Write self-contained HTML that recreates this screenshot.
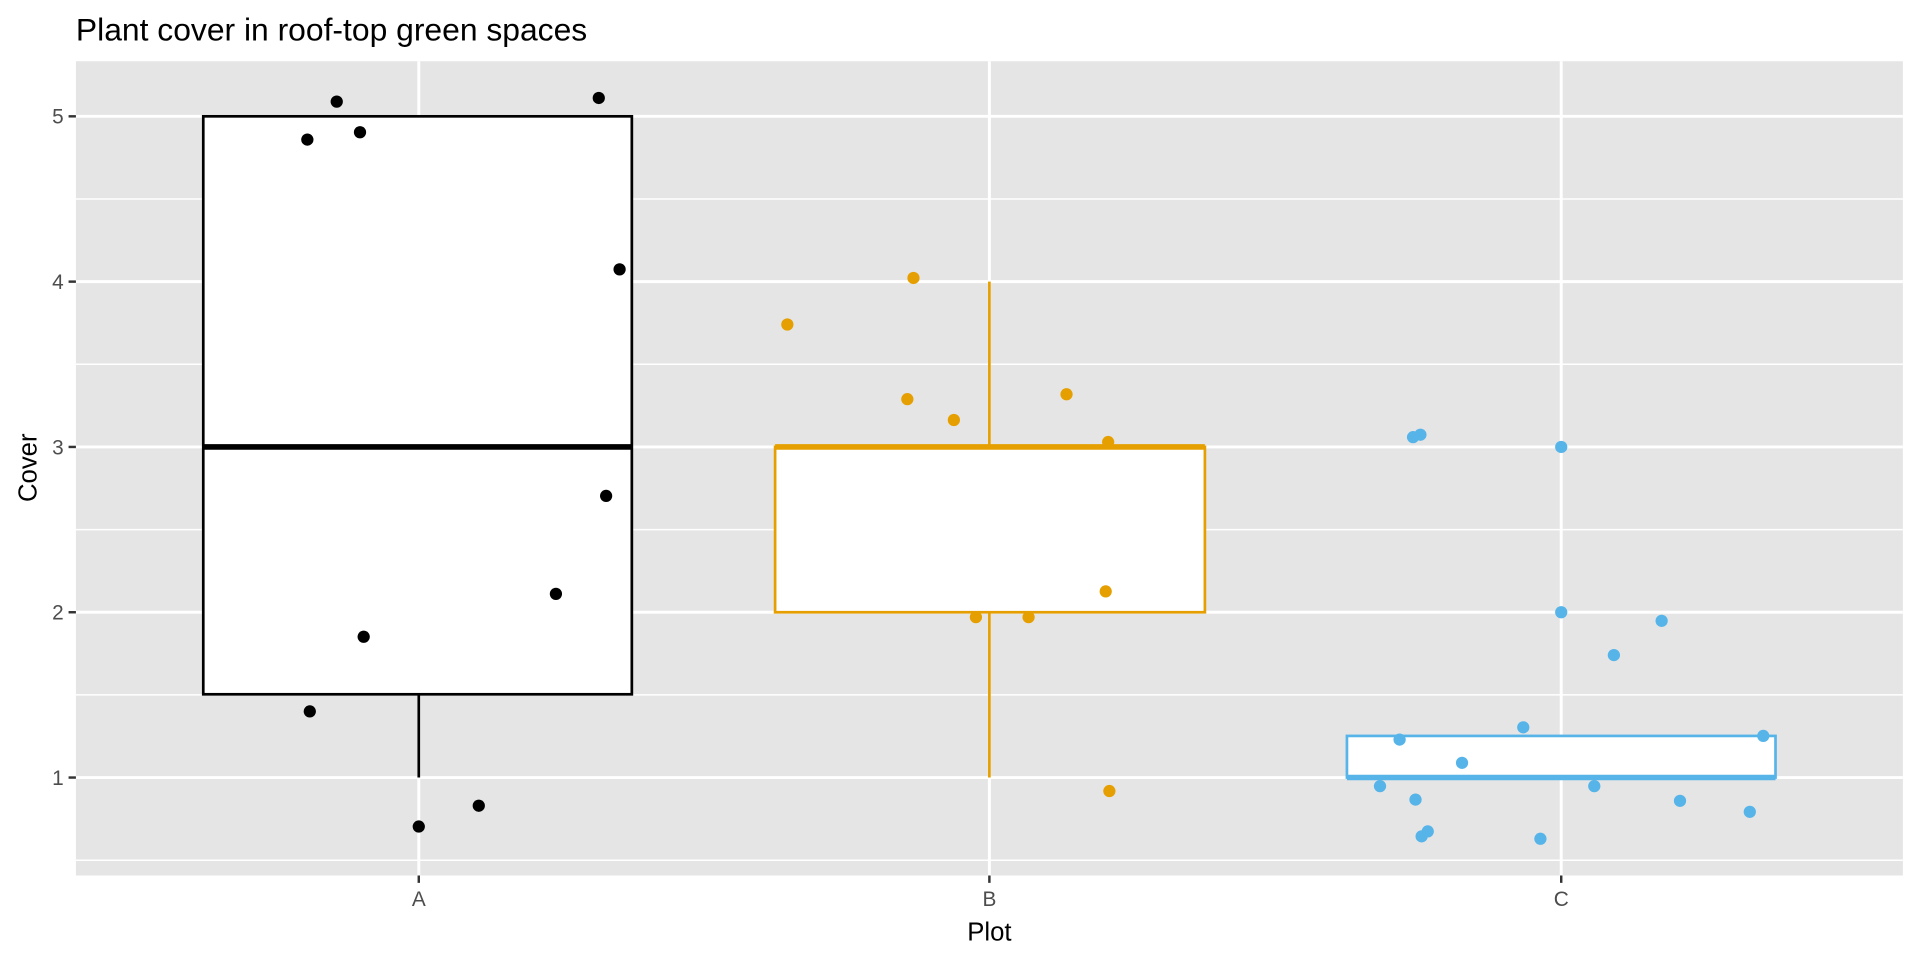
<!DOCTYPE html>
<html><head><meta charset="utf-8"><style>
html,body{margin:0;padding:0;background:#fff;overflow:hidden;}
svg{display:block;}
svg text{font-family:"Liberation Sans",Arial,sans-serif;}
</style></head><body>
<svg width="1920" height="960" viewBox="0 0 1568 784" xmlns="http://www.w3.org/2000/svg">
<rect width="1568" height="784" fill="#fff"/>
<text x="62" y="33" font-size="26" fill="#000">Plant cover in roof-top green spaces</text>
<rect x="62" y="50" width="1492" height="665" fill="#e5e5e5"/>
<g stroke="#fff" stroke-width="1.2">
<line x1="62" x2="1554" y1="162.5" y2="162.5"/><line x1="62" x2="1554" y1="297.5" y2="297.5"/>
<line x1="62" x2="1554" y1="432.5" y2="432.5"/><line x1="62" x2="1554" y1="567.5" y2="567.5"/>
<line x1="62" x2="1554" y1="702.5" y2="702.5"/>
</g>
<g stroke="#fff" stroke-width="2.4">
<line x1="62" x2="1554" y1="95" y2="95"/><line x1="62" x2="1554" y1="230" y2="230"/>
<line x1="62" x2="1554" y1="365" y2="365"/><line x1="62" x2="1554" y1="500" y2="500"/>
<line x1="62" x2="1554" y1="635" y2="635"/>
<line x1="342" x2="342" y1="50" y2="715"/><line x1="808" x2="808" y1="50" y2="715"/><line x1="1275" x2="1275" y1="50" y2="715"/>
</g>
<g stroke="#000" stroke-width="2.2" fill="#fff">
<line x1="342" x2="342" y1="567" y2="635"/>
<rect x="166" y="95" width="350" height="472"/>
<line x1="166" x2="516" y1="365" y2="365" stroke-width="4.5"/>
</g>
<g fill="#000">
<circle cx="275" cy="83" r="5"/><circle cx="489" cy="80" r="5"/><circle cx="251" cy="114" r="5"/>
<circle cx="294" cy="108" r="5"/><circle cx="506" cy="220" r="5"/><circle cx="495" cy="405" r="5"/>
<circle cx="454" cy="485" r="5"/><circle cx="297" cy="520" r="5"/><circle cx="253" cy="581" r="5"/>
<circle cx="391" cy="658" r="5"/><circle cx="342" cy="675" r="5"/>
</g>
<g stroke="#E69F00" stroke-width="2.2" fill="#fff">
<line x1="808" x2="808" y1="230" y2="365"/><line x1="808" x2="808" y1="500" y2="635"/>
<rect x="633" y="365" width="351" height="135"/>
<line x1="633" x2="984" y1="365" y2="365" stroke-width="4.5"/>
</g>
<g fill="#E69F00">
<circle cx="746" cy="227" r="5"/><circle cx="643" cy="265" r="5"/><circle cx="741" cy="326" r="5"/>
<circle cx="871" cy="322" r="5"/><circle cx="779" cy="343" r="5"/><circle cx="905" cy="361" r="5"/>
<circle cx="903" cy="483" r="5"/><circle cx="797" cy="504" r="5"/><circle cx="840" cy="504" r="5"/>
<circle cx="906" cy="646" r="5"/>
</g>
<g stroke="#56B4E9" stroke-width="2.2" fill="#fff">
<rect x="1100" y="601" width="350" height="34"/>
<line x1="1100" x2="1450" y1="635" y2="635" stroke-width="4.5"/>
</g>
<g fill="#56B4E9">
<circle cx="1154" cy="357" r="5"/><circle cx="1160" cy="355" r="5"/><circle cx="1275" cy="365" r="5"/>
<circle cx="1275" cy="500" r="5"/><circle cx="1357" cy="507" r="5"/><circle cx="1318" cy="535" r="5"/>
<circle cx="1244" cy="594" r="5"/><circle cx="1143" cy="604" r="5"/><circle cx="1440" cy="601" r="5"/>
<circle cx="1194" cy="623" r="5"/><circle cx="1127" cy="642" r="5"/><circle cx="1302" cy="642" r="5"/>
<circle cx="1156" cy="653" r="5"/><circle cx="1372" cy="654" r="5"/><circle cx="1429" cy="663" r="5"/>
<circle cx="1166" cy="679" r="5"/><circle cx="1161" cy="683" r="5"/><circle cx="1258" cy="685" r="5"/>
</g>
<g stroke="#333" stroke-width="2">
<line x1="56" x2="62" y1="95" y2="95"/><line x1="56" x2="62" y1="230" y2="230"/><line x1="56" x2="62" y1="365" y2="365"/>
<line x1="56" x2="62" y1="500" y2="500"/><line x1="56" x2="62" y1="635" y2="635"/>
<line x1="342" x2="342" y1="715" y2="721"/><line x1="808" x2="808" y1="715" y2="721"/><line x1="1275" x2="1275" y1="715" y2="721"/>
</g>
<g font-size="17" fill="#4d4d4d" text-anchor="end">
<text x="52" y="101">5</text><text x="52" y="236">4</text><text x="52" y="371">3</text><text x="52" y="506">2</text><text x="52" y="641">1</text>
</g>
<g font-size="17" fill="#4d4d4d" text-anchor="middle">
<text x="342" y="740">A</text><text x="808" y="740">B</text><text x="1275" y="740">C</text>
</g>
<text x="808" y="768" font-size="21" text-anchor="middle" fill="#000">Plot</text>
<text transform="translate(30,382) rotate(-90)" font-size="21" text-anchor="middle" fill="#000">Cover</text>
</svg>
</body></html>
